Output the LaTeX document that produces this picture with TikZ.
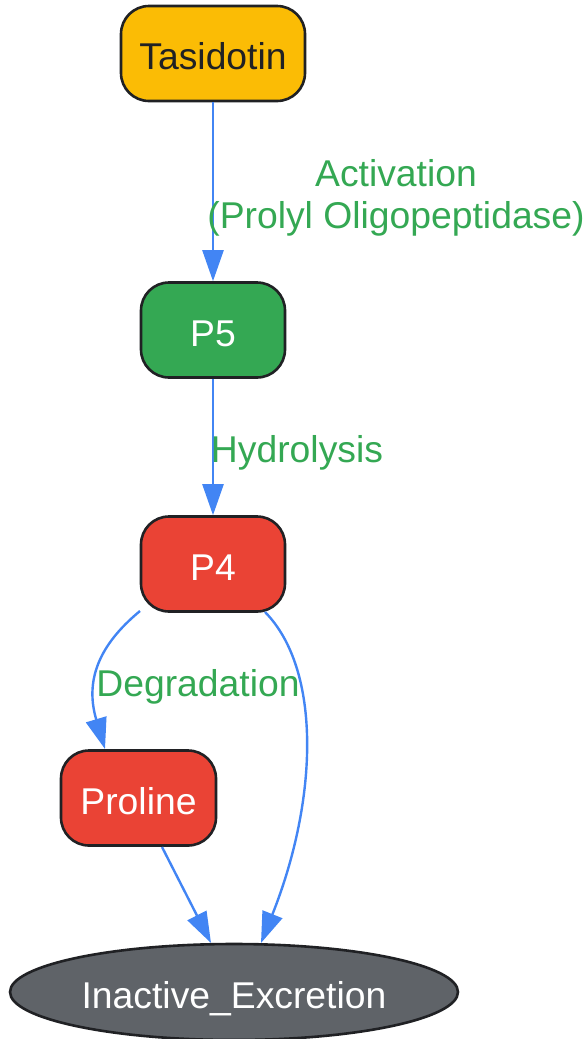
\documentclass[tikz,border=0pt]{standalone}
\usepackage{fontspec}
\setmainfont{Liberation Sans}
\usetikzlibrary{arrows.meta,shapes.geometric}
\definecolor{cyel}{HTML}{FBBC05}
\definecolor{cgrn}{HTML}{34A853}
\definecolor{cred}{HTML}{EA4335}
\definecolor{cgry}{HTML}{5F6368}
\definecolor{cblu}{HTML}{4285F4}
\definecolor{cdark}{HTML}{202124}
\tikzset{
  box/.style={draw=cdark, line width=2.6pt, rounded corners=28pt, minimum height=95pt, inner sep=0pt, text height=32.7pt, text depth=0pt, font=\fontsize{37.3}{42}\selectfont},
  oval/.style={ellipse, draw=cdark, line width=2.6pt, minimum width=448pt, minimum height=96pt, inner sep=0pt, text height=32.5pt, text depth=0pt, fill=cgry, text=white, font=\fontsize{37.3}{42}\selectfont},
  edge/.style={draw=cblu, line width=2.4pt, -{Triangle[length=31pt,width=21pt]}},
  lbl/.style={text=cgrn, align=center, inner sep=0pt, font=\fontsize{37.3}{42}\selectfont}
}
\begin{document}
\begin{tikzpicture}[x=1pt,y=-1pt]
\useasboundingbox (0,0) rectangle (588,1039);
\node[box, fill=cyel, text=cdark, minimum width=184pt] (tas) at (213,53.5) {Tasidotin};
\node[box, fill=cgrn, text=white, minimum width=144pt] (p5) at (213,330) {P5};
\node[box, fill=cred, text=white, minimum width=144pt] (p4) at (213,564) {P4};
\node[box, fill=cred, text=white, minimum width=155pt] (pro) at (138.5,798) {Proline};
\node[oval] (ie) at (234,992) {Inactive\_Excretion};
\coordinate (p4a) at (140,611);
\coordinate (p4b) at (265,612);
\coordinate (proa) at (162,847);
\coordinate (prot) at (105,749);
\coordinate (iea) at (211,943);
\coordinate (ieb) at (261,943);
\draw[edge] (tas.south) -- (p5.north);
\draw[edge] (p5.south) -- (p4.north);
\draw[edge] (p4a) .. controls (105,640) and (83,675) .. (prot);
\draw[edge] (p4b) .. controls (322,670) and (318,800) .. (ieb);
\draw[edge] (proa) -- (iea);
\node[lbl] (l1) at (396,198) {Activation\\(Prolyl Oligopeptidase)};
\node[lbl] (l2) at (297,453) {Hydrolysis};
\node[lbl] (l3) at (198,687) {Degradation};
\end{tikzpicture}
\end{document}
